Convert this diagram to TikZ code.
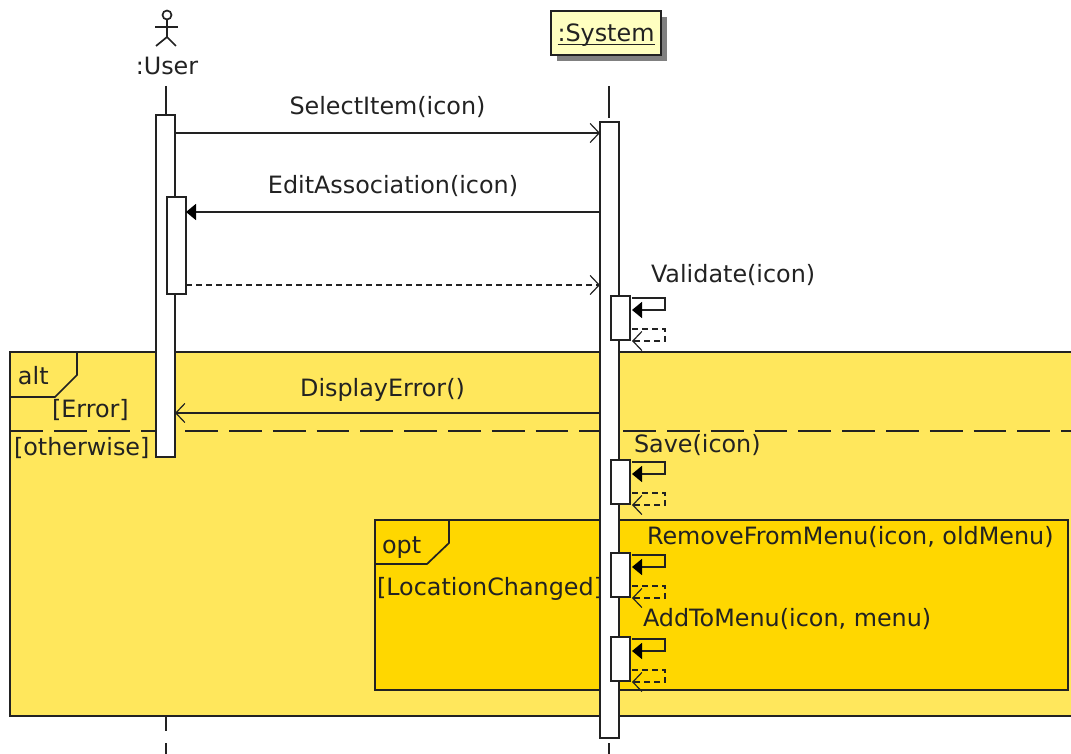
\documentclass[tikz,border=0pt]{standalone}
\usepackage{fontspec}
\setmainfont{DejaVu Sans}
\usepackage{tikz}
\usetikzlibrary{calc,arrows.meta,shadows}
\definecolor{altyellow}{HTML}{FFE75C}
\definecolor{optyellow}{HTML}{FFD700}
\definecolor{sysyellow}{HTML}{FFFFC0}
\definecolor{inkgray}{HTML}{222222}

\tikzset{
    line/.style={draw=inkgray, line width=0.85pt},
    bar/.style={line, fill=white, minimum width=9.5pt, inner sep=0pt, outer sep=0pt, anchor=north west},
    selfbar/.style={bar, minimum height=22pt},
    frame/.style={line, inner sep=0pt, outer sep=0pt, anchor=north west},
    txt/.style={text=inkgray, inner sep=0pt, outer sep=0pt, font=\fontsize{11.93}{14}\selectfont, anchor=base west},
    msglabel/.style={txt, anchor=base, midway, yshift=9pt},
    open/.style={line, -{Straight Barb[length=4.5pt,width=9.5pt,line width=0.6pt]}},
    filled/.style={line, -{Triangle[length=5pt,width=8pt,fill=black,color=black]}},
    openback/.style={open, dashed, dash pattern=on 3pt off 2pt},
}

\begin{document}
\begin{tikzpicture}[x=0.5pt, y=-0.5pt]
    \useasboundingbox (0,0) rectangle (1071,754);
    % Lifelines
    \coordinate (UserTop) at (166,86);
    \coordinate (UserLow) at (166,716);
    \coordinate (UserGap) at (166,731);
    \coordinate (UserNext) at (166,743);
    \coordinate (UserEnd) at (166,754);
    \coordinate (SystemTop) at (609,86);
    \coordinate (SystemGap) at (609,118);
    \coordinate (SystemLow) at (609,743);
    \coordinate (SystemEnd) at (609,754);
    \draw[line] (UserTop) -- (UserLow) -- (UserGap);
    \draw[line] (UserNext) -- (UserEnd);
    \draw[line] (SystemTop) -- (SystemGap);
    \draw[line] (SystemLow) -- (SystemEnd);

    % Frames
    \node [frame,
        fill=altyellow,
        minimum width=535pt,
        minimum height=182pt
    ] (AltFrame) at (10,352) {};
    \node [frame,
        fill=optyellow,
        minimum width=346.5pt,
        minimum height=85pt
    ] (OptFrame) at (375,520) {};
    \draw[line] ($(AltFrame.north west)+(67,0)$) -- ++(0,23) -- ++(-22,22) -- ($(AltFrame.north west)+(0,45)$);
    \draw[line] ($(OptFrame.north west)+(74,0)$) -- ++(0,23) -- ++(-22,21) -- ($(OptFrame.north west)+(0,44)$);
    \coordinate (SplitLeft) at (10,431);
    \coordinate (SplitRight) at (1080,431);
    \draw[line, dash pattern=on 16.4pt off 5.5pt] (SplitLeft) -- (SplitRight);

    % Activation bars
    \node [bar, minimum height=171pt] (UserBar) at (156,115) {};
    \node [bar, minimum height=48.5pt] (EditBar) at (167,197) {};
    \node [bar, minimum height=308pt] (SystemBar) at (600,122) {};
    \node [selfbar] (ValidateBar) at (611,296) {};
    \node [selfbar] (SaveBar) at (611,460) {};
    \node [selfbar] (RemoveBar) at (611,553) {};
    \node [selfbar] (AddBar) at (611,637) {};

    % Actor
    \node [line, fill=white, circle, minimum size=4.5pt, inner sep=0pt] (UserHead) at (167,15) {};
    \coordinate (UserHip) at (167,37);
    \draw[line] (UserHead.south) -- (UserHip);
    \draw[line] (155,27) -- (178,27);
    \draw[line] (156,46) -- (UserHip) -- (176,46);
    \node [txt, anchor=base] (UserName) at (167,75) {:User};

    % System
    \node [line,
        fill=sysyellow,
        minimum width=55pt,
        minimum height=22pt,
        inner sep=0pt,
        drop shadow={shadow xshift=3pt, shadow yshift=-3pt, fill=gray, opacity=1}
    ] (SystemName) at (606,33) {};
    \node [txt, anchor=base] (SystemText) at (606,42) {:System};
    \draw[line] ($(SystemText.base west)+(0,2.5)$) -- ($(SystemText.base east)+(0,2.5)$);

    % Messages
    \coordinate (SelectY) at (0,133);
    \coordinate (EditY) at (0,212);
    \coordinate (ReturnY) at (0,285);
    \coordinate (ErrorY) at (0,413);
    \draw[open] (UserBar.east |- SelectY) -- (SystemBar.west |- SelectY)
    node[msglabel] (SelectLabel) {SelectItem(icon)};
    \draw[filled] (SystemBar.west |- EditY) -- (EditBar.east |- EditY)
    node[msglabel] (EditLabel) {EditAssociation(icon)};
    \draw[open, dashed, dash pattern=on 3pt off 2pt] (EditBar.east |- ReturnY) -- (SystemBar.west |- ReturnY);
    \draw[open] (SystemBar.west |- ErrorY) -- (UserBar.east |- ErrorY)
    node[msglabel, xshift=-2.5pt, yshift=-0.5pt] (ErrorLabel) {DisplayError()};

    % Self calls
    \foreach \name in {Validate,Save,Remove,Add} {
        \draw[filled] ($(\name Bar.north east)+(2,2)$) -- ++(33,0) -- ++(0,12) -- ++(-33,0);
        \draw[openback] ($(\name Bar.north east)+(2,33)$) -- ++(33,0) -- ++(0,12) -- ++(-33,0);
    }
    \node [txt] (ValidateLabel) at (651,283) {Validate(icon)};
    \node [txt] (SaveLabel) at (634,452) {Save(icon)};
    \node [txt] (RemoveLabel) at (647,544) {RemoveFromMenu(icon, oldMenu)};
    \node [txt] (AddLabel) at (643,626) {AddToMenu(icon, menu)};

    % Guards
    \node [txt] (AltLabel) at (18,384) {alt};
    \node [txt] (ErrorGuard) at (52,417) {[Error]};
    \node [txt] (OtherGuard) at (14,455) {[otherwise]};
    \node [txt] (OptLabel) at (382,553) {opt};
    \node [txt] (LocationGuard) at (377,595) {[LocationChanged]};
\end{tikzpicture}
\end{document}
